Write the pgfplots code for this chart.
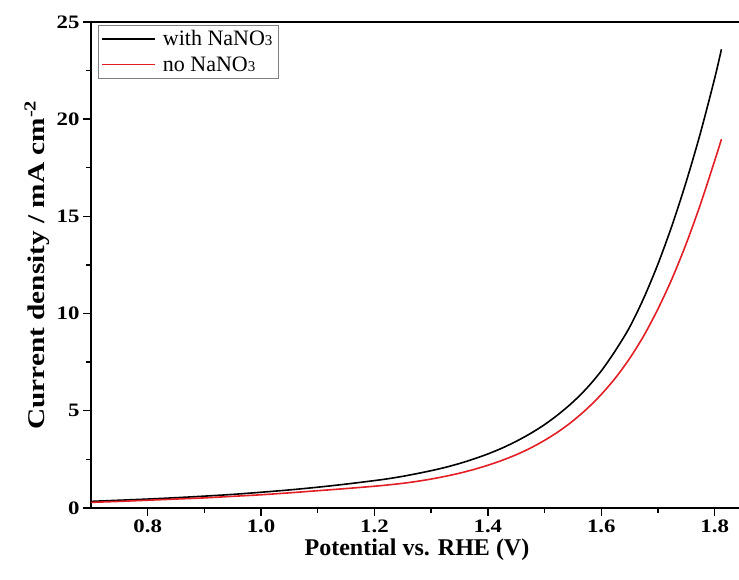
\documentclass[border=0pt]{standalone}
\usepackage{graphicx}
\usepackage{pgfplots}
\pgfplotsset{compat=1.18}
\usepackage{fontspec}
\setmainfont{Liberation Serif}
\definecolor{lsvred}{RGB}{226,30,36}

\pgfplotstableread{
v j
0.70 0.34
0.75 0.40
0.80 0.46
0.85 0.53
0.90 0.61
0.95 0.70
1.00 0.81
1.05 0.93
1.10 1.07
1.15 1.23
1.20 1.41
1.225 1.51
1.25 1.63
1.275 1.77
1.30 1.92
1.325 2.09
1.35 2.29
1.375 2.52
1.40 2.78
1.425 3.08
1.45 3.43
1.475 3.83
1.50 4.29
1.525 4.83
1.55 5.45
1.575 6.18
1.60 7.05
1.625 8.10
1.65 9.30
1.675 10.80
1.70 12.55
1.725 14.55
1.75 16.80
1.775 19.30
1.80 22.10
1.812 23.60
}\withnitrate

\pgfplotstableread{
v j
0.70 0.29
0.75 0.34
0.80 0.40
0.85 0.46
0.90 0.52
0.95 0.60
1.00 0.68
1.05 0.78
1.10 0.89
1.15 1.00
1.20 1.12
1.225 1.19
1.25 1.27
1.275 1.37
1.30 1.49
1.325 1.63
1.35 1.79
1.375 1.98
1.40 2.20
1.425 2.45
1.45 2.74
1.475 3.08
1.50 3.48
1.525 3.94
1.55 4.48
1.575 5.11
1.60 5.84
1.625 6.69
1.65 7.69
1.675 8.86
1.70 10.24
1.725 11.81
1.75 13.61
1.775 15.63
1.80 17.86
1.812 18.97
}\nonitrate

\newcommand{\wide}[1]{\scalebox{1.2}[1]{#1}}

\begin{document}
\begin{tikzpicture}
\begin{axis}[
    name=ax,
    scale only axis,
    width=652pt,
    height=486pt,
    xmin=0.7, xmax=1.85,
    ymin=0, ymax=25,
    xtick={0.8,1.0,1.2,1.4,1.6,1.8},
    ytick={0,5,10,15,20,25},
    xticklabels={\wide{0.8},\wide{1.0},\wide{1.2},\wide{1.4},\wide{1.6},\wide{1.8}},
    yticklabels={\wide{0},\wide{5},\wide{10},\wide{15},\wide{20},\wide{25}},
    minor x tick num=1,
    minor y tick num=1,
    tick pos=left,
    tick align=outside,
    major tick length=8pt,
    minor tick length=5pt,
    every tick/.style={black, line width=1.4pt},
    axis line style={line width=1.6pt},
    tick label style={font=\bfseries\fontsize{19}{21}\selectfont},
    xlabel={Potential vs. RHE (V)},
    ylabel={\scalebox{1.22}[1]{Current density / mA cm\textsuperscript{-2}}},
    label style={font=\bfseries\fontsize{24}{26}\selectfont},
    legend style={at={(0.010,0.994)}, anchor=north west, draw=gray, line width=0.6pt,
        font=\fontsize{22}{24}\selectfont, row sep=5pt, inner sep=3.5pt},
    legend cell align=left,
    legend image code/.code={\draw[#1, line width=1.6pt] (0pt,0pt) -- (53pt,0pt);
        \path (58pt,0pt);},
]
\addplot[black, line width=1.6pt, smooth] table[x=v, y=j] {\withnitrate};
\addlegendentry{with NaNO{\fontsize{15}{15}\selectfont 3}}
\addplot[lsvred, line width=1.6pt, smooth] table[x=v, y=j] {\nonitrate};
\addlegendentry{no NaNO{\fontsize{15}{15}\selectfont 3}}
\end{axis}
\pgfresetboundingbox
\path ([shift={(-91pt,-72pt)}]ax.south west) rectangle ([shift={(648pt,22pt)}]ax.north west);
\end{tikzpicture}
\end{document}
